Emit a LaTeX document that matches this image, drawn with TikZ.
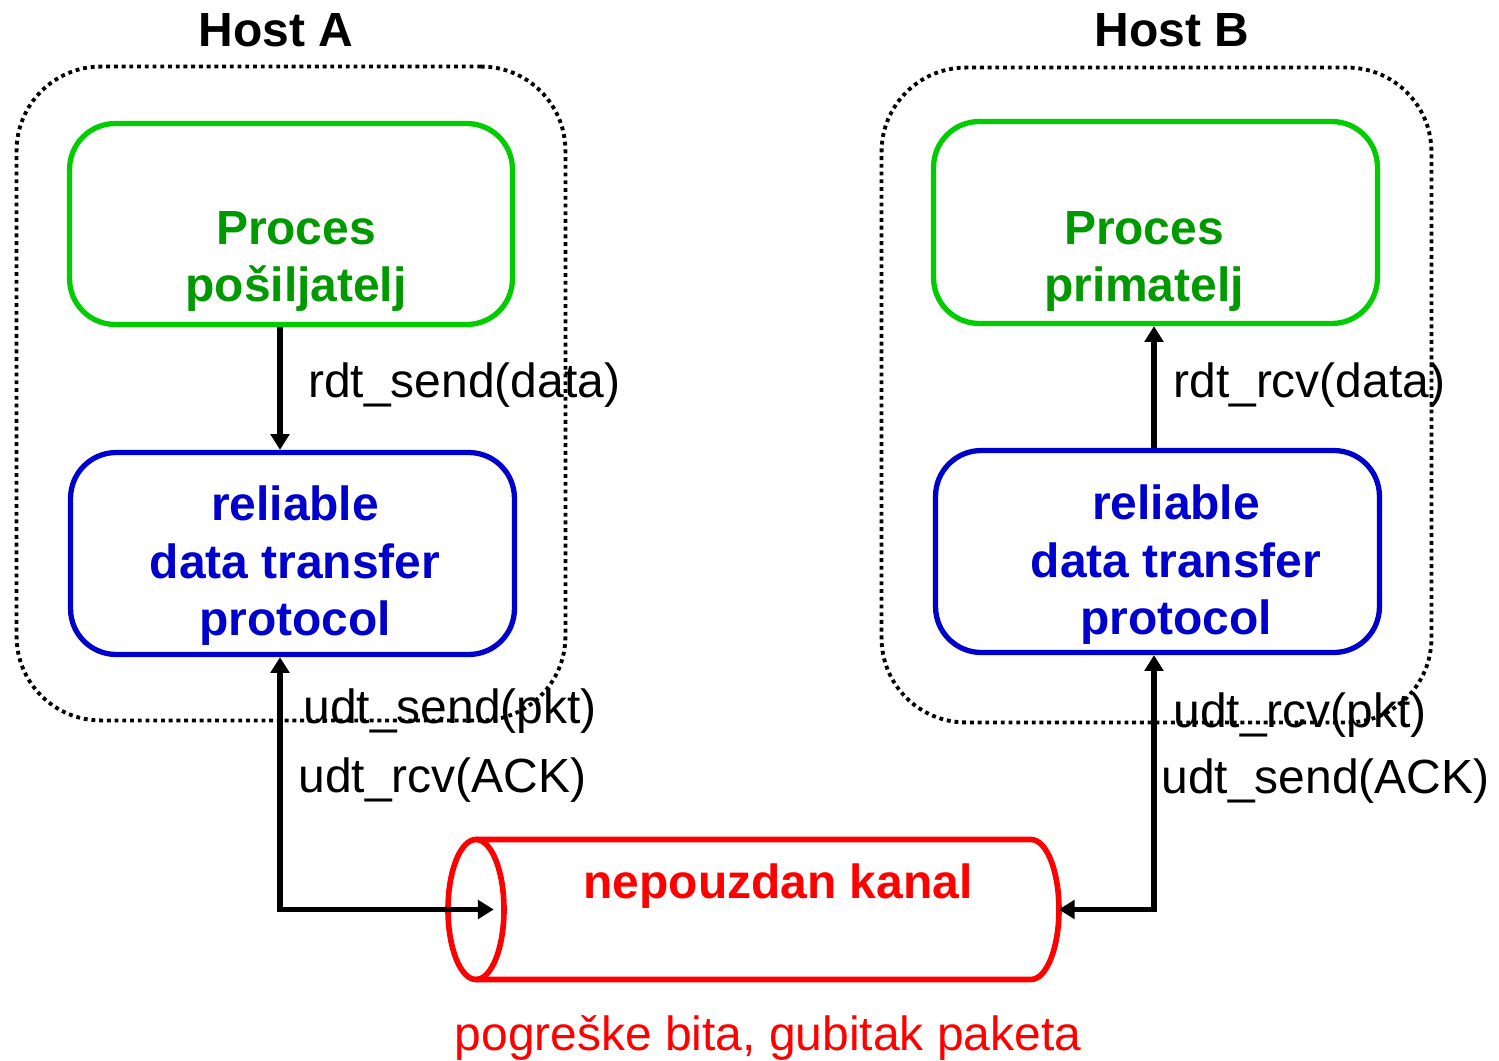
\documentclass[tikz,border=0pt]{standalone}
\usepackage{fontspec}
\setmainfont{Liberation Sans}
\usetikzlibrary{arrows.meta,calc}
\definecolor{boxgreen}{RGB}{0,204,0}
\definecolor{textgreen}{RGB}{0,153,0}
\definecolor{protoblue}{RGB}{0,0,204}
\definecolor{chanred}{RGB}{255,0,0}

\begin{document}
\begin{tikzpicture}[x=0.02cm,y=-0.02cm,
  every node/.style={inner sep=0pt, font=\fontsize{27.3}{32.7}\selectfont},
  boldtext/.style={font=\fontsize{27.3}{32.7}\selectfont\bfseries, align=center},
  hostbox/.style={draw=black, line width=2.2pt, dash pattern=on 2.2pt off 2.2pt,
    rounded corners=48pt},
  procbox/.style={draw=boxgreen, line width=3pt, rounded corners=26pt},
  rdtbox/.style={draw=protoblue, line width=3pt, rounded corners=26pt},
  chanline/.style={draw=chanred, line width=3.2pt},
  conn/.style={draw=black, line width=3pt, line join=miter,
    arrows={-Triangle[length=9pt,width=10.5pt]}},
  biconn/.style={conn, arrows={Triangle[length=9pt,width=10.5pt]-Triangle[length=9pt,width=10.5pt]}},
  callname/.style={anchor=base west}
]
\path[use as bounding box] (0,0) rectangle (1499,1061);

% host outlines
\node[hostbox, minimum width=10.98cm, minimum height=13.08cm] (hostA) at (291,393.5) {};
\node[hostbox, minimum width=11cm, minimum height=13.1cm] (hostB) at (1156.5,395) {};
\node[boldtext, anchor=base] (hostAlbl) at (276,47) {Host A};
\node[boldtext, anchor=base] (hostBlbl) at (1172,47) {Host B};

% application processes
\node[procbox, minimum width=8.86cm, minimum height=4.02cm] (procA) at (291,224) {};
\node[procbox, minimum width=8.88cm, minimum height=4.04cm] (procB) at (1155.5,222.5) {};
\node[boldtext, text=textgreen] (procAtxt) at (296,261.5) {Proces\\pošiljatelj};
\node[boldtext, text=textgreen] (procBtxt) at (1144,261.5) {Proces\\primatelj};

% reliable data transfer protocol boxes
\node[rdtbox, minimum width=8.88cm, minimum height=4.04cm] (rdtA) at (292.5,553.5) {};
\node[rdtbox, minimum width=8.88cm, minimum height=4.04cm] (rdtB) at (1157.5,551.5) {};
\node[boldtext, text=protoblue] (rdtAtxt) at (295,566) {reliable\\data transfer\\protocol};
\node[boldtext, text=protoblue] (rdtBtxt) at (1176,565) {reliable\\data transfer\\protocol};

% unreliable channel (cylinder)
\node[minimum width=12.21cm, minimum height=2.8cm] (chan) at (753.25,909.5) {};
\draw[chanline] (476,909.5) ellipse [x radius=0.56cm, y radius=1.4cm];
\draw[chanline] (476,839.5) -- (1031,839.5)
  arc[start angle=90, end angle=-90, x radius=0.56cm, y radius=1.4cm] -- (476,979.5);
\node[boldtext, text=chanred, anchor=base] (chantxt) at (778,898) {nepouzdan kanal};
\node[text=chanred, anchor=base] (channote) at (768,1050) {pogreške bita, gubitak paketa};

% connectors
\coordinate (xA) at (280,0);
\coordinate (xB) at (1154,0);
\coordinate (cA) at (280,909.5);
\coordinate (cB) at (1154,909.5);
\draw[conn] (procA.south -| xA) -- (rdtA.north -| xA);
\draw[conn] (rdtB.north -| xB) -- (procB.south -| xB);
\draw[biconn] (rdtA.south -| cA) -- (cA) -- ($(chan.west)+(46,0)$);
\draw[biconn] (rdtB.south -| cB) -- (cB) -- (chan.east);

% interface calls
\node[callname] (sendA) at (308,397) {rdt\_send(data)};
\node[callname] (rcvB) at (1173,397) {rdt\_rcv(data)};
\node[callname] (udtsendA) at (303,723) {udt\_send(pkt)};
\node[callname] (udtrcvA) at (298,792) {udt\_rcv(ACK)};
\node[callname] (udtrcvB) at (1173,727) {udt\_rcv(pkt)};
\node[callname] (udtsendB) at (1161,793) {udt\_send(ACK)};
\end{tikzpicture}
\end{document}
